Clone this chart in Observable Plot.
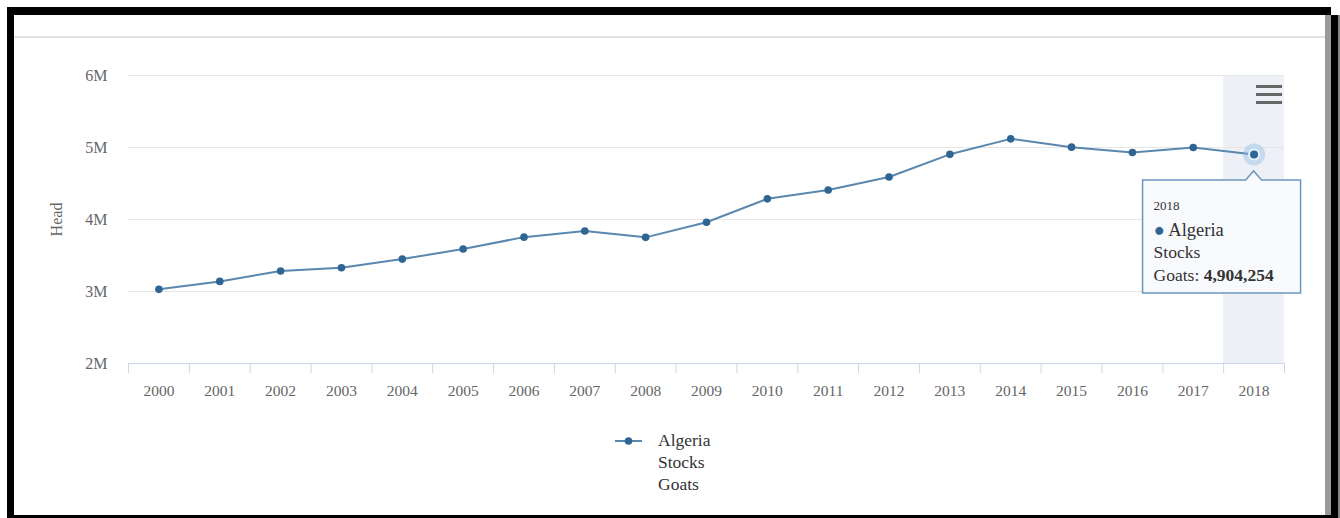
<!DOCTYPE html>
<html>
<head>
<meta charset="utf-8">
<script src="https://cdn.jsdelivr.net/npm/d3@7"></script>
<script src="https://cdn.jsdelivr.net/npm/@observablehq/plot@0.6"></script>
<style>
html, body { margin: 0; padding: 0; background: #fff; width: 1340px; height: 518px; overflow: hidden; position: relative;
  font-family: "Liberation Serif", "DejaVu Serif", serif; }
.abs { position: absolute; }
#chart { left: 0; top: 0; }
.menu { background: #666; width: 26px; height: 3px; left: 1256px; }
.leg { color: #333; font-size: 17.5px; line-height: 22px; }
</style>
</head>
<body>
<div id="chart" class="abs"></div>
<!-- page frame -->
<div class="abs" style="left:14px;top:36px;width:1311px;height:2px;background:#e2e2e2"></div>
<div class="abs" style="left:7px;top:7px;width:1324px;height:8px;background:#000"></div>
<div class="abs" style="left:7px;top:7px;width:7px;height:511px;background:#000"></div>
<div class="abs" style="left:1325px;top:15px;width:6px;height:503px;background:#999"></div>
<div class="abs" style="left:1331px;top:15px;width:7px;height:503px;background:#000"></div>
<div class="abs" style="left:1338px;top:15px;width:2px;height:503px;background:#888"></div>
<div class="abs" style="left:7px;top:515px;width:1331px;height:3px;background:#000"></div>
<!-- context menu icon -->
<div class="abs menu" style="top:85px"></div>
<div class="abs menu" style="top:93px"></div>
<div class="abs menu" style="top:101px"></div>
<!-- legend -->
<div id="legend" class="abs" style="left:612px;top:429px;"></div>
<script>
const years = [2000, 2001, 2002, 2003, 2004, 2005, 2006, 2007, 2008, 2009, 2010, 2011, 2012, 2013, 2014, 2015, 2016, 2017, 2018];
const goats = [3030000, 3140000, 3285000, 3330000, 3450000, 3590000, 3755000, 3840000, 3752000, 3962000, 4287000, 4410000, 4590000, 4905000, 5120000, 5005000, 4930000, 5000000, 4904254];
const yTicks = [2000000, 3000000, 4000000, 5000000, 6000000];
const seriesLabel = ["Algeria", "Stocks", "Goats"];
const yTitle = "Head";
const hoverYear = 2018;

const lineColor = "#5a87ae";
const dotColor = "#2e6593";

const data = years.map((year, i) => ({year, value: goats[i]}));
const bounds = years.map(y => y - 0.5).concat([years[years.length - 1] + 0.5]);
const hi = data.find(d => d.year === hoverYear);

const plot = Plot.plot({
  width: 1340,
  height: 518,
  marginLeft: 128,
  marginRight: 56,
  marginTop: 75,
  marginBottom: 155,
  style: {fontFamily: '"Liberation Serif", "DejaVu Serif", serif', fontSize: "15px", color: "#666", background: "transparent"},
  x: {domain: [bounds[0], bounds[bounds.length - 1]], label: null},
  y: {domain: [yTicks[0], yTicks[yTicks.length - 1]], label: null},
  marks: [
    Plot.rect([hi], {x1: d => d.year - 0.5, x2: d => d.year + 0.5, y1: () => yTicks[0], y2: () => yTicks[yTicks.length - 1], fill: "#edf0f6"}),
    Plot.ruleY(yTicks.slice(1), {stroke: "#e6e6e6", strokeWidth: 1}),
    Plot.ruleY([yTicks[0]], {stroke: "#ccd6eb", strokeWidth: 1}),
    Plot.axisX({ticks: bounds, tickSize: 10, tickFormat: () => "", stroke: "#ccd6eb", label: null}),
    Plot.axisX({ticks: years, tickSize: 0, tickPadding: 21, tickFormat: d => String(d), fontSize: 15.5, fill: "#666", label: null}),
    Plot.axisY({ticks: yTicks, tickSize: 0, tickPadding: 21, tickFormat: d => (d / 1e6) + "M", fontSize: 16, fill: "#666",
      label: yTitle, labelAnchor: "center", labelOffset: 78, labelArrow: "none"}),
    Plot.line(data, {x: "year", y: "value", stroke: lineColor, strokeWidth: 2}),
    Plot.dot(data, {x: "year", y: "value", r: 3.8, fill: dotColor}),
    Plot.dot([hi], {x: "year", y: "value", r: 11, fill: "#8ab9e4", fillOpacity: 0.4}),
    Plot.dot([hi], {x: "year", y: "value", r: 5, fill: dotColor, stroke: "#e3f4ff", strokeWidth: 2})
  ]
});
document.getElementById("chart").appendChild(plot);

// tooltip positioned from the plot's own scales
const px = plot.scale("x").apply(hi.year);
const py = plot.scale("y").apply(hi.value);
const L = px - 111, R = px + 47, T = py + 26, B = py + 139;
const ns = "http://www.w3.org/2000/svg";
const tip = document.createElementNS(ns, "svg");
tip.setAttribute("width", 1340);
tip.setAttribute("height", 518);
tip.style.position = "absolute";
tip.style.left = "0px";
tip.style.top = "0px";
tip.style.fontFamily = '"Liberation Serif", "DejaVu Serif", serif';
const path = document.createElementNS(ns, "path");
path.setAttribute("d", `M${L},${T}H${px - 8}L${px},${py + 17}L${px + 8},${T}H${R}V${B}H${L}Z`);
path.setAttribute("fill", "#f8fafd");
path.setAttribute("fill-opacity", "0.96");
path.setAttribute("stroke", "#6b96bf");
path.setAttribute("stroke-width", "1.5");
tip.appendChild(path);
function addText(x, y, size, parts) {
  const t = document.createElementNS(ns, "text");
  t.setAttribute("x", x);
  t.setAttribute("y", y);
  t.setAttribute("font-size", size);
  t.setAttribute("fill", "#333");
  for (const [txt, opts] of parts) {
    const s = document.createElementNS(ns, "tspan");
    s.textContent = txt;
    if (opts && opts.bold) s.setAttribute("font-weight", "bold");
    if (opts && opts.fill) s.setAttribute("fill", opts.fill);
    t.appendChild(s);
  }
  tip.appendChild(t);
}
addText(L + 11, py + 56, 13, [[String(hi.year)]]);
addText(L + 11, py + 82, 18.5, [["\u25CF ", {fill: dotColor}], [seriesLabel[0]]]);
addText(L + 11, py + 104, 17.5, [[seriesLabel[1]]]);
addText(L + 11, py + 127, 17.5, [[seriesLabel[2] + ": "], [d3.format(",")(hi.value), {bold: true}]]);
document.body.appendChild(tip);

// legend
const leg = document.getElementById("legend");
leg.innerHTML = `
<svg class="abs" style="left:0;top:3px" width="34" height="20">
  <line x1="3" y1="9" x2="30" y2="9" stroke="${lineColor}" stroke-width="2"></line>
  <circle cx="16.5" cy="9" r="3.8" fill="${dotColor}"></circle>
</svg>
<div class="abs leg" style="left:46px;top:0;white-space:nowrap">${seriesLabel.join("<br>")}</div>`;
</script>
</body>
</html>
